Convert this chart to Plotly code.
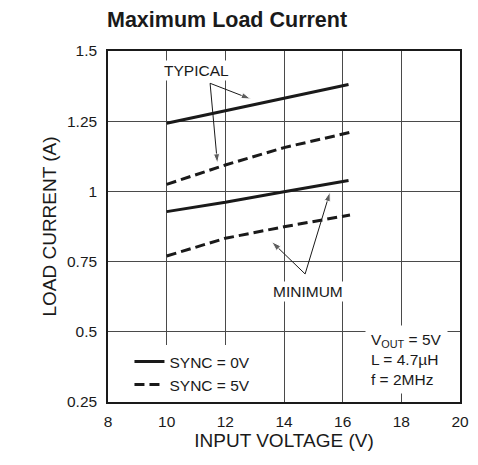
import plotly.graph_objects as go

# ---- data ----
input_voltage_solid = [10, 12, 14, 16.2]
input_voltage_dashed = [10, 12, 14, 16.25]
typical_sync0 = [1.243, 1.287, 1.332, 1.381]
typical_sync5 = [1.025, 1.094, 1.156, 1.210]
minimum_sync0 = [0.928, 0.961, 0.999, 1.039]
minimum_sync5 = [0.770, 0.833, 0.874, 0.916]

y_tick_vals = [0.25, 0.5, 0.75, 1, 1.25, 1.5]
y_tick_text = ["0.25", "0.5", "0.75", "1", "1.25", "1.5"]
x_tick_vals = [8, 10, 12, 14, 16, 18, 20]

# callout arrows: (tail x, tail y, head x, head y)
typical_arrows = [(11.48, 1.385, 12.865, 1.329), (11.48, 1.385, 11.73, 1.100)]
minimum_arrows = [(14.72, 0.706, 13.58, 0.821), (14.72, 0.706, 15.57, 0.998)]

FONT = "Liberation Sans, Arial, Helvetica, sans-serif"
INK = "#1a1a1a"
GRID = "#4a4a4a"
DASH = "10px,5px"
FS = 15.5

# the page body adds an 8px margin, so the figure is sized to fill the rest
W, H = 470, 457

fig = go.Figure()
fig.add_trace(go.Scatter(x=input_voltage_solid, y=typical_sync0, mode="lines",
                         line=dict(color=INK, width=3), name="SYNC = 0V",
                         legend="legend2", showlegend=True))
fig.add_trace(go.Scatter(x=input_voltage_dashed, y=typical_sync5, mode="lines",
                         line=dict(color=INK, width=3, dash=DASH), name="SYNC = 5V",
                         legend="legend", showlegend=True))
fig.add_trace(go.Scatter(x=input_voltage_solid, y=minimum_sync0, mode="lines",
                         line=dict(color=INK, width=3), name="SYNC = 0V",
                         showlegend=False))
fig.add_trace(go.Scatter(x=input_voltage_dashed, y=minimum_sync5, mode="lines",
                         line=dict(color=INK, width=3, dash=DASH), name="SYNC = 5V",
                         showlegend=False))

for x0, y0, x1, y1 in typical_arrows + minimum_arrows:
    fig.add_trace(go.Scatter(x=[x0, x1], y=[y0, y1], mode="lines+markers",
                             line=dict(color=INK, width=1),
                             marker=dict(symbol=["circle", "arrow"], size=[0, 10],
                                         angleref="previous", color=INK),
                             showlegend=False, hoverinfo="skip"))

annotations = [
    dict(x=11.03, y=1.429, text="TYPICAL", showarrow=False, bgcolor="white",
         font=dict(size=FS, color=INK, family=FONT), borderpad=1),
    dict(x=14.82, y=0.642, text="MINIMUM", showarrow=False, bgcolor="white",
         font=dict(size=FS, color=INK, family=FONT), borderpad=1),
    dict(x=16.76, y=0.403, xanchor="left", align="left",
         text="V<sub>OUT</sub> = 5V<br>L = 4.7µH<br>f = 2MHz", showarrow=False,
         bgcolor="white", borderpad=5, font=dict(size=FS, color=INK, family=FONT)),
]

legend_common = dict(xanchor="left", yanchor="middle", bgcolor="white",
                     font=dict(size=FS, family=FONT, color=INK), borderwidth=0,
                     itemwidth=30)

fig.update_layout(
    width=W, height=H,
    margin=dict(l=100, r=18, t=43, b=63),
    paper_bgcolor="white", plot_bgcolor="white",
    font=dict(family=FONT, size=FS, color=INK),
    title=dict(text="<b>Maximum Load Current</b>", x=99 / W, xanchor="left",
               xref="container", y=1 - 11 / H, yanchor="middle", yref="container",
               font=dict(size=21.5, family=FONT, color=INK)),
    showlegend=True,
    legend2=dict(x=0.061, y=(402 - 362) / 351, **legend_common),
    legend=dict(x=0.061, y=(402 - 385) / 351, **legend_common),
    annotations=annotations,
)
fig.update_xaxes(range=[8, 20], tickvals=x_tick_vals, showgrid=True, gridcolor=GRID,
                 gridwidth=1, zeroline=False, showline=True, linecolor=INK, linewidth=1.5,
                 mirror=True, ticks="", automargin=False, ticklabelstandoff=5,
                 title=dict(text="INPUT VOLTAGE (V)", standoff=4),
                 tickfont=dict(size=FS))
fig.update_yaxes(range=[0.25, 1.5], tickvals=y_tick_vals, ticktext=y_tick_text,
                 showgrid=True, gridcolor=GRID, gridwidth=1, zeroline=False,
                 showline=True, linecolor=INK, linewidth=1.5, mirror=True, ticks="",
                 automargin=False, ticklabelstandoff=6,
                 title=dict(text="LOAD CURRENT (A)", standoff=5), tickfont=dict(size=FS))

fig.write_html("out.html")
